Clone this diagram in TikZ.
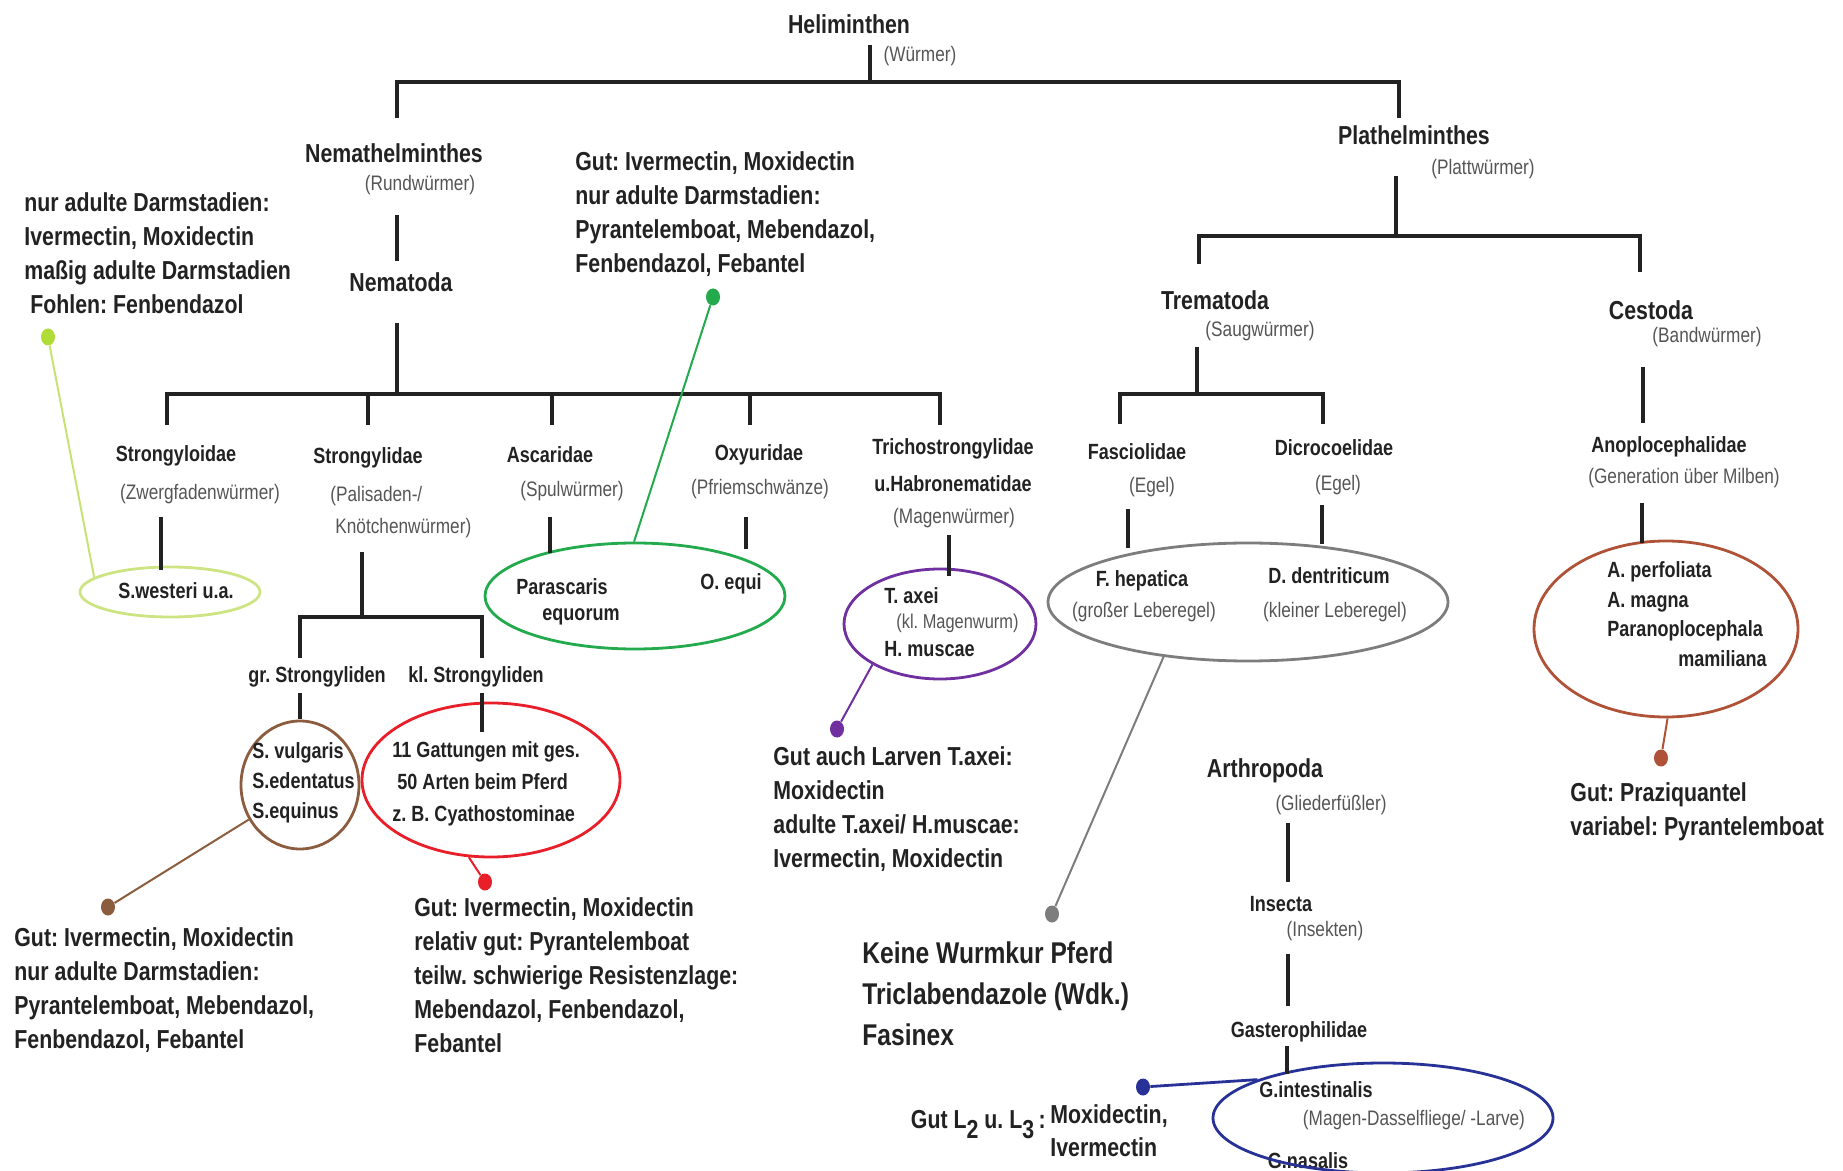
\documentclass[tikz,border=0pt]{standalone}
\usepackage{fontspec}
\setmainfont{Liberation Sans}[FakeStretch=0.82]
\usetikzlibrary{shapes.geometric}
\frenchspacing
\definecolor{txt}{RGB}{34,34,34}
\definecolor{ptxt}{RGB}{85,85,85}
\definecolor{lgE}{RGB}{205,228,130}
\definecolor{lgD}{RGB}{175,220,55}
\definecolor{grn}{RGB}{34,170,76}
\definecolor{brn}{RGB}{140,92,62}
\definecolor{rd}{RGB}{232,30,40}
\definecolor{prp}{RGB}{112,48,160}
\definecolor{gry}{RGB}{125,125,125}
\definecolor{brd}{RGB}{175,82,55}
\definecolor{blu}{RGB}{40,50,150}
\begin{document}
\begin{tikzpicture}[x=0.5pt,y=-0.5pt,
  big/.style={font=\fontsize{13}{15}\selectfont\bfseries, inner sep=0pt, text=txt},
  mid/.style={font=\fontsize{11}{13}\selectfont\bfseries, inner sep=0pt, text=txt},
  par/.style={font=\fontsize{10.5}{13}\selectfont, inner sep=0pt, text=ptxt},
  note/.style={font=\fontsize{13}{17}\selectfont\bfseries, inner sep=0pt, align=left, anchor=north west, text=txt},
  tree/.style={line width=1.6pt, txt},
  ell/.style={ellipse, line width=1.4pt, inner sep=0pt},
  dotn/.style={ellipse, inner sep=0pt, minimum width=7pt, minimum height=8.5pt},
  conn/.style={line width=1pt}]
\path[use as bounding box] (0,0) rectangle (1843,1171);

% ---------- top ----------
\node[big] (hel) at (849,24) {Heliminthen};
\node[par] (help) at (920,56) {(Würmer)};
\coordinate (hT) at (870,45);
\coordinate (hJ) at (870,82);
\draw[tree] (hT) -- (hJ);
\coordinate (nemT) at (397,118);
\coordinate (plaT) at (1399,118);
\draw[tree, line width=2.2pt] (nemT) |- (hJ) -| (plaT);

% ---------- Nemathelminthes ----------
\node[big] (nem) at (394,153) {Nemathelminthes};
\node[par] (nemp) at (420,185) {(Rundwürmer)};
\coordinate (a1) at (397,215);
\coordinate (a2) at (397,261);
\draw[tree] (a1) -- (a2);
\node[big] (nemat) at (401,282) {Nematoda};
\coordinate (b1) at (397,323);
\coordinate (bJ) at (397,394);
\draw[tree] (b1) -- (bJ);
\coordinate (d1) at (167,425);
\coordinate (d2) at (368,425);
\coordinate (d3) at (552,425);
\coordinate (d4) at (750,425);
\coordinate (d5) at (940,425);
\draw[tree] (d1) |- (bJ) -| (d5);
\draw[tree] (d2) -- (d2 |- bJ);
\draw[tree] (d3) -- (d3 |- bJ);
\draw[tree] (d4) -- (d4 |- bJ);

% Strongyloidae
\node[mid] (sgd) at (176,456) {Strongyloidae};
\node[par] (sgdp) at (200,494) {(Zwergfadenwürmer)};
\node[ell, draw=lgE, minimum width=90pt, minimum height=25pt] (ellW) at (170,592) {};
\node[mid] (swest) at (176,591) {S.westeri u.a.};
\coordinate (e1) at (161,517);
\coordinate (e2) at (161,570);
\draw[tree] (e1) -- (e2);

% Strongylidae
\node[mid] (sgl) at (368,458) {Strongylidae};
\node[par, anchor=west] (sglp1) at (330,496) {(Palisaden-/};
\node[par, anchor=west] (sglp2) at (335,528) {Knötchenwürmer)};
\coordinate (f1) at (362,552);
\coordinate (fJ) at (362,617);
\coordinate (g1) at (300,658);
\coordinate (g2) at (482,658);
\draw[tree] (f1) -- (fJ);
\draw[tree] (g1) |- (fJ) -| (g2);
\node[mid] (grs) at (317,677) {gr. Strongyliden};
\node[mid] (kls) at (476,677) {kl. Strongyliden};
\node[ell, draw=brn, minimum width=59pt, minimum height=64pt] (ellS) at (300,785) {};
\node[ell, draw=rd, minimum width=129pt, minimum height=77pt] (ellK) at (491,780) {};
\coordinate (h1) at (300,693);
\coordinate (h2) at (300,719);
\draw[tree] (h1) -- (h2);
\coordinate (i1) at (482,693);
\coordinate (i2) at (482,732);
\draw[tree] (i1) -- (i2);
\node[mid, anchor=west, align=left, font=\fontsize{11}{15}\selectfont\bfseries] (sv) at (252,783) {S. vulgaris\\S.edentatus\\S.equinus};
\node[mid, anchor=west, align=left, font=\fontsize{11}{16}\selectfont\bfseries] (gat) at (392,784) {11 Gattungen mit ges.\\\ 50 Arten beim Pferd\\z. B. Cyathostominae};

% Ascaridae / Oxyuridae
\node[mid] (asc) at (550,455) {Ascaridae};
\node[par] (ascp) at (572,491) {(Spulwürmer)};
\node[mid] (oxy) at (759,455) {Oxyuridae};
\node[par] (oxyp) at (760,489) {(Pfriemschwänze)};
\node[ell, draw=grn, minimum width=150pt, minimum height=53pt] (ellA) at (635,596) {};
\coordinate (j1) at (550,517);
\coordinate (j2) at (550,553);
\draw[tree] (j1) -- (j2);
\coordinate (k1) at (746,517);
\coordinate (k2) at (746,549);
\draw[tree] (k1) -- (k2);
\node[mid] (para) at (562,587) {Parascaris};
\node[mid] (equo) at (581,617) {equorum};
\node[mid] (oequi) at (731,584) {O. equi};

% Trichostrongylidae
\node[mid] (tri) at (953,449) {Trichostrongylidae};
\node[mid] (hab) at (953,484) {u.Habronematidae};
\node[par] (trip) at (954,518) {(Magenwürmer)};
\node[ell, draw=prp, minimum width=96pt, minimum height=55pt] (ellT) at (940,624) {};
\coordinate (l1) at (949,535);
\coordinate (l2) at (949,576);
\draw[tree] (l1) -- (l2);
\node[mid, anchor=west] (taxei) at (884,596) {T. axei};
\node[par, anchor=west, font=\fontsize{10}{12}\selectfont] (klm) at (896,623) {(kl. Magenwurm)};
\node[mid, anchor=west] (hmus) at (884,649) {H. muscae};

% ---------- Plathelminthes ----------
\node[big] (pla) at (1414,135) {Plathelminthes};
\node[par] (plap) at (1483,169) {(Plattwürmer)};
\coordinate (m1) at (1396,176);
\coordinate (mJ) at (1396,236);
\draw[tree] (m1) -- (mJ);
\coordinate (n1) at (1199,264);
\coordinate (n2) at (1640,272);
\draw[tree] (n1) |- (mJ) -| (n2);
\node[big] (trem) at (1215,300) {Trematoda};
\node[par] (tremp) at (1260,331) {(Saugwürmer)};
\coordinate (o1) at (1197,347);
\coordinate (oJ) at (1197,394);
\draw[tree] (o1) -- (oJ);
\coordinate (p1) at (1120,424);
\coordinate (p2) at (1323,424);
\draw[tree] (p1) |- (oJ) -| (p2);
\node[mid] (fas) at (1137,452) {Fasciolidae};
\node[par] (fasp) at (1152,487) {(Egel)};
\node[mid] (dic) at (1334,448) {Dicrocoelidae};
\node[par] (dicp) at (1338,485) {(Egel)};
\node[ell, draw=gry, minimum width=200pt, minimum height=59pt] (ellF) at (1248,602) {};
\coordinate (q1) at (1128,509);
\coordinate (q2) at (1128,548);
\draw[tree] (q1) -- (q2);
\coordinate (r1) at (1322,505);
\coordinate (r2) at (1322,544);
\draw[tree] (r1) -- (r2);
\node[mid] (fhep) at (1142,581) {F. hepatica};
\node[par] (fhepp) at (1144,612) {(großer Leberegel)};
\node[mid] (dden) at (1329,576) {D. dentriticum};
\node[par] (ddenp) at (1335,612) {(kleiner Leberegel)};

\node[big] (ces) at (1651,310) {Cestoda};
\node[par] (cesp) at (1707,337) {(Bandwürmer)};
\coordinate (s1) at (1643,367);
\coordinate (s2) at (1643,423);
\draw[tree] (s1) -- (s2);
\node[mid] (ano) at (1669,447) {Anoplocephalidae};
\node[par] (anop) at (1684,478) {(Generation über Milben)};
\node[ell, draw=brd, minimum width=132pt, minimum height=88pt] (ellP) at (1666,629) {};
\coordinate (t1) at (1642,503);
\coordinate (t2) at (1642,543);
\draw[tree] (t1) -- (t2);
\node[mid, anchor=west] (aperf) at (1607,572) {A. perfoliata};
\node[mid, anchor=west] (amag) at (1607,602) {A. magna};
\node[mid, anchor=west] (parano) at (1607,631) {Paranoplocephala};
\node[mid, anchor=east] (mami) at (1767,659) {mamiliana};

% ---------- Arthropoda ----------
\node[big] (arth) at (1265,771) {Arthropoda};
\node[par] (arthp) at (1331,805) {(Gliederfüßler)};
\coordinate (u1) at (1288,823);
\coordinate (u2) at (1288,882);
\draw[tree] (u1) -- (u2);
\node[mid] (ins) at (1281,904) {Insecta};
\node[par] (insp) at (1325,931) {(Insekten)};
\coordinate (v1) at (1288,954);
\coordinate (v2) at (1288,1006);
\draw[tree] (v1) -- (v2);
\node[mid] (gast) at (1299,1032) {Gasterophilidae};
\node[mid] (gnas) at (1308,1161) {G.nasalis};
\node[ell, draw=blu, minimum width=170pt, minimum height=55pt] (ellG) at (1383,1118) {};
\coordinate (w1) at (1287,1046);
\coordinate (w2) at (1287,1074);
\draw[tree] (w1) -- (w2);
\node[mid] (gint) at (1316,1090) {G.intestinalis};
\node[par] (gintp) at (1414,1120) {(Magen-Dasselfliege/ -Larve)};

% ---------- dots, connectors, notes ----------
\node[dotn, fill=lgD] (dotW) at (48,337) {};
\draw[conn, lgE!80!lgD] (dotW) -- (ellW.169);
\node[note] (noteW) at (24,192) {nur adulte Darmstadien:\\Ivermectin, Moxidectin\\maßig adulte Darmstadien\\\ Fohlen: Fenbendazol};

\node[dotn, fill=grn] (dotA) at (713,297) {};
\draw[conn, grn] (dotA) -- (ellA.91);
\node[note] (noteA) at (575,151) {Gut: Ivermectin, Moxidectin\\nur adulte Darmstadien:\\Pyrantelemboat, Mebendazol,\\Fenbendazol, Febantel};

\node[dotn, fill=brn] (dotS) at (108,907) {};
\draw[conn, brn] (dotS) -- (ellS.214);
\node[note] (noteS) at (14,927) {Gut: Ivermectin, Moxidectin\\nur adulte Darmstadien:\\Pyrantelemboat, Mebendazol,\\Fenbendazol, Febantel};

\node[dotn, fill=rd] (dotK) at (485,882) {};
\draw[conn, rd] (dotK) -- (ellK.254);
\node[note] (noteK) at (414,897) {Gut: Ivermectin, Moxidectin\\relativ gut: Pyrantelemboat\\teilw. schwierige Resistenzlage:\\Mebendazol, Fenbendazol,\\Febantel};

\node[dotn, fill=prp] (dotT) at (837,729) {};
\draw[conn, prp] (dotT) -- (ellT.211);
\node[note] (noteT) at (773,746) {Gut auch Larven T.axei:\\Moxidectin\\adulte T.axei/ H.muscae:\\Ivermectin, Moxidectin};

\node[dotn, fill=gry] (dotF) at (1052,914) {};
\draw[conn, gry] (dotF) -- (ellF.213);
\node[note, font=\fontsize{15}{20.5}\selectfont\bfseries] (noteF) at (862,941) {Keine Wurmkur Pferd\\Triclabendazole (Wdk.)\\Fasinex};

\node[dotn, fill=brd] (dotP) at (1661,758) {};
\draw[conn, brd] (dotP) -- (ellP.271);
\node[note] (noteP) at (1570,782) {Gut: Praziquantel\\variabel: Pyrantelemboat};

\node[dotn, fill=blu] (dotG) at (1143,1087) {};
\draw[conn, blu, line width=1.4pt] (dotG) -- (ellG.163);
\node[note, anchor=east] (gutl) at (1046,1125) {Gut L\raisebox{-5pt}{2} u. L\raisebox{-5pt}{3}\,:};
\node[note, font=\fontsize{13}{16.5}\selectfont\bfseries] (gutm) at (1050,1104) {Moxidectin,\\Ivermectin};
\end{tikzpicture}
\end{document}
